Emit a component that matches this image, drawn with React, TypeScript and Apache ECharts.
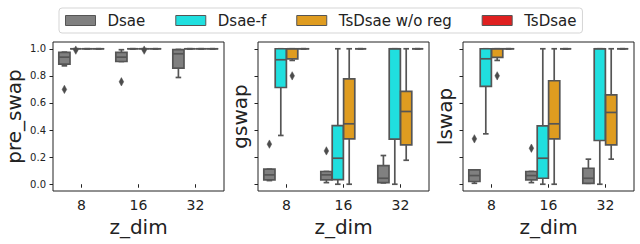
import React, { useEffect, useRef } from 'react';
import * as echarts from 'echarts';

const categories = ['8', '16', '32'];
const hueNames = ['Dsae', 'Dsae-f', 'TsDsae w/o reg', 'TsDsae'];
const hueColors = ['#808080', '#20dfdf', '#df9c20', '#df2020'];
const yTicks = [0, 0.2, 0.4, 0.6, 0.8, 1.0];
const panelNames = ['pre_swap', 'gswap', 'lswap'];

// box stats per category: [lowerWhisker, q1, median, q3, upperWhisker]
const preSwapDsae = [[0.874, 0.887, 0.938, 0.973, 0.975], [0.906, 0.906, 0.938, 0.973, 0.993], [0.788, 0.857, 0.963, 0.993, 0.995]];
const preSwapDsaeF = [[1, 1, 1, 1, 1], [1, 1, 1, 1, 1], [1, 1, 1, 1, 1]];
const preSwapTsNoReg = [[1, 1, 1, 1, 1], [1, 1, 1, 1, 1], [1, 1, 1, 1, 1]];
const preSwapTs = [[1, 1, 1, 1, 1], [1, 1, 1, 1, 1], [1, 1, 1, 1, 1]];
// outliers: [categoryIndex, value]
const preSwapOutDsae = [[0, 0.70], [1, 0.756]];
const preSwapOutDsaeF = [[0, 0.99]];
const preSwapOutTsNoReg = [[1, 0.99]];
const preSwapOutTs: number[][] = [];

const gswapDsae = [[0.027, 0.032, 0.069, 0.111, 0.111], [0.012, 0.032, 0.069, 0.094, 0.094], [0.01, 0.012, 0.044, 0.138, 0.212]];
const gswapDsaeF = [[0.36, 0.714, 0.919, 1, 1], [0.0, 0.034, 0.192, 0.433, 1], [0.0, 0.333, 1, 1, 1]];
const gswapTsNoReg = [[0.914, 0.926, 1, 1, 1], [0.0, 0.335, 0.446, 0.778, 1], [0.177, 0.291, 0.537, 0.685, 1]];
const gswapTs = [[1, 1, 1, 1, 1], [1, 1, 1, 1, 1], [1, 1, 1, 1, 1]];
const gswapOutDsae = [[0, 0.296], [1, 0.246]];
const gswapOutDsaeF: number[][] = [];
const gswapOutTsNoReg = [[0, 0.80]];
const gswapOutTs: number[][] = [];

const lswapDsae = [[0.007, 0.02, 0.064, 0.106, 0.106], [0.012, 0.032, 0.064, 0.094, 0.094], [0.007, 0.007, 0.044, 0.118, 0.185]];
const lswapDsaeF = [[0.372, 0.722, 0.926, 1, 1], [0.0, 0.044, 0.192, 0.431, 1], [0.0, 0.323, 1, 1, 1]];
const lswapTsNoReg = [[0.914, 0.936, 1, 1, 1], [0.0, 0.335, 0.446, 0.764, 1], [0.185, 0.291, 0.53, 0.66, 1]];
const lswapTs = [[1, 1, 1, 1, 1], [1, 1, 1, 1, 1], [1, 1, 1, 1, 1]];
const lswapOutDsae = [[0, 0.335], [1, 0.266]];
const lswapOutDsaeF: number[][] = [];
const lswapOutTsNoReg = [[0, 0.80]];
const lswapOutTs: number[][] = [];

const panelBoxes = [
  [preSwapDsae, preSwapDsaeF, preSwapTsNoReg, preSwapTs],
  [gswapDsae, gswapDsaeF, gswapTsNoReg, gswapTs],
  [lswapDsae, lswapDsaeF, lswapTsNoReg, lswapTs],
];
const panelOutliers = [
  [preSwapOutDsae, preSwapOutDsaeF, preSwapOutTsNoReg, preSwapOutTs],
  [gswapOutDsae, gswapOutDsaeF, gswapOutTsNoReg, gswapOutTs],
  [lswapOutDsae, lswapOutDsaeF, lswapOutTsNoReg, lswapOutTs],
];

const FONT = 'DejaVu Sans';
const EDGE = '#555555';
const LW = 1.7;
const TEXT = '#222222';

function boxRenderer(h: number) {
  return (params: any, api: any) => {
    const cat = api.value(0);
    const band = api.size([1, 0])[0];
    const cx = api.coord([cat, 0])[0] + (h - 1.5) * 0.2 * band;
    const w = 0.2 * band * 0.98;
    const capHalf = w / 4;
    const ys = [1, 2, 3, 4, 5].map((i) => api.coord([cat, api.value(i)])[1]);
    const [yMin, yQ1, yMed, yQ3, yMax] = ys;
    const ls = { stroke: EDGE, lineWidth: LW, fill: null };
    return {
      type: 'group',
      children: [
        { type: 'line', shape: { x1: cx, y1: yQ1, x2: cx, y2: yMin }, style: ls },
        { type: 'line', shape: { x1: cx, y1: yQ3, x2: cx, y2: yMax }, style: ls },
        { type: 'line', shape: { x1: cx - capHalf, y1: yMin, x2: cx + capHalf, y2: yMin }, style: ls },
        { type: 'line', shape: { x1: cx - capHalf, y1: yMax, x2: cx + capHalf, y2: yMax }, style: ls },
        {
          type: 'rect',
          shape: { x: cx - w / 2, y: yQ3, width: w, height: yQ1 - yQ3 },
          style: { fill: api.visual('color'), stroke: EDGE, lineWidth: LW },
        },
        { type: 'line', shape: { x1: cx - w / 2, y1: yMed, x2: cx + w / 2, y2: yMed }, style: ls },
      ],
    };
  };
}

function outlierRenderer(h: number) {
  return (params: any, api: any) => {
    const cat = api.value(0);
    const band = api.size([1, 0])[0];
    const p = api.coord([cat, api.value(1)]);
    const cx = p[0] + (h - 1.5) * 0.2 * band;
    const cy = p[1];
    const hw = 2.3;
    const hh = 4.2;
    return {
      type: 'polygon',
      shape: { points: [[cx, cy - hh], [cx + hw, cy], [cx, cy + hh], [cx - hw, cy]] },
      style: { fill: '#4c4c4c', stroke: '#4c4c4c', lineWidth: 0.5 },
    };
  };
}

export default function App() {
  const ref = useRef<HTMLDivElement>(null);
  useEffect(() => {
    if (!ref.current) return;
    const chart = echarts.init(ref.current, null, { renderer: 'svg' });
    const lefts = [53, 258, 463];
    const grids = lefts.map((l) => ({
      left: l,
      top: 42,
      width: 171,
      height: 149,
      show: true,
      borderColor: '#222',
      borderWidth: 1,
      backgroundColor: 'transparent',
    }));
    const xAxes = lefts.map((_, i) => ({
      type: 'category',
      gridIndex: i,
      data: categories,
      axisLine: { show: false },
      axisTick: { show: true, alignWithLabel: true, length: 3.5, lineStyle: { color: '#222', width: 1 } },
      axisLabel: { fontFamily: FONT, fontSize: 14, color: TEXT, margin: 7 },
      splitLine: { show: false },
      name: 'z_dim',
      nameLocation: 'middle',
      nameGap: 25,
      nameTextStyle: { fontFamily: FONT, fontSize: 20, color: TEXT },
    }));
    const yAxes = lefts.map((_, i) => ({
      type: 'value',
      gridIndex: i,
      min: -0.05,
      max: 1.05,
      axisLine: { show: false },
      splitLine: { show: false },
      axisTick: { show: true, length: 3.5, customValues: yTicks, lineStyle: { color: '#222', width: 1 } },
      axisLabel: {
        show: i === 0,
        customValues: yTicks,
        formatter: (v: number) => v.toFixed(1),
        fontFamily: FONT,
        fontSize: 10,
        color: TEXT,
        margin: 7,
      },
      name: panelNames[i],
      nameLocation: 'middle',
      nameGap: i === 0 ? 29 : 8,
      nameTextStyle: { fontFamily: FONT, fontSize: 20, color: TEXT },
    }));
    const series: any[] = [];
    for (let p = 0; p < 3; p++) {
      for (let h = 0; h < 4; h++) {
        series.push({
          type: 'custom',
          name: hueNames[h],
          xAxisIndex: p,
          yAxisIndex: p,
          itemStyle: { color: hueColors[h] },
          renderItem: boxRenderer(h),
          encode: { x: 0, y: [1, 2, 3, 4, 5] },
          data: panelBoxes[p][h].map((b, i) => [i, ...b]),
        });
      }
      for (let h = 0; h < 4; h++) {
        if (!panelOutliers[p][h].length) continue;
        series.push({
          type: 'custom',
          name: hueNames[h],
          xAxisIndex: p,
          yAxisIndex: p,
          itemStyle: { color: hueColors[h] },
          renderItem: outlierRenderer(h),
          encode: { x: 0, y: 1 },
          data: panelOutliers[p][h],
          z: 5,
        });
      }
    }
    chart.setOption({
      animation: false,
      backgroundColor: '#ffffff',
      legend: {
        data: hueNames,
        left: 59,
        top: 8,
        icon: 'rect',
        itemWidth: 30,
        itemHeight: 10,
        itemGap: 30,
        padding: [5, 6, 5, 6],
        borderColor: '#d5d5d5',
        borderWidth: 1,
        borderRadius: 3,
        selectedMode: false,
        itemStyle: { borderColor: '#555', borderWidth: 1 },
        textStyle: { fontFamily: FONT, fontSize: 15, color: TEXT, padding: [0, 0, 0, 7] },
      },
      grid: grids,
      xAxis: xAxes,
      yAxis: yAxes,
      series,
    });
    return () => chart.dispose();
  }, []);
  return (
    <div
      ref={ref}
      style={{ position: 'fixed', left: 0, top: 0, width: 640, height: 244, background: '#fff' }}
    />
  );
}
